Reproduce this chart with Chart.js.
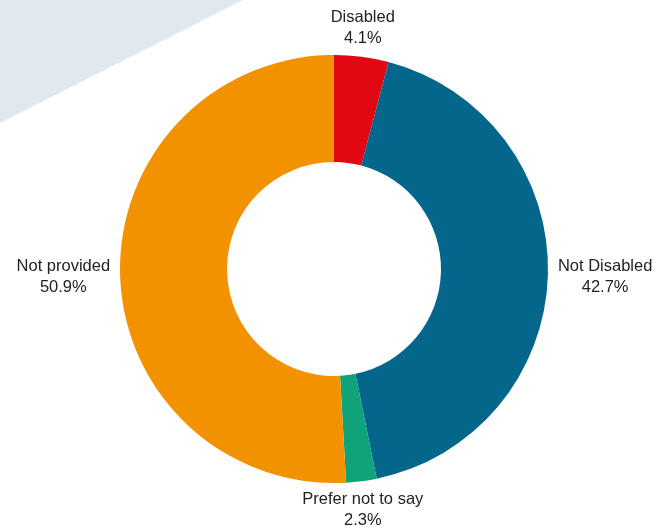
<!DOCTYPE html>
<html>
<head>
<meta charset="utf-8">
<script src="https://cdn.jsdelivr.net/npm/chart.js@4"></script>
<style>
  html, body { margin: 0; padding: 0; background: #fff; }
  #wrap { width: 663px; height: 531px; position: relative; }
</style>
</head>
<body>
<div id="wrap"><canvas id="grafico"></canvas></div>
<script>
const categorias = ["Disabled", "Not Disabled", "Prefer not to say", "Not provided"];
const porcentajes = [4.1, 42.7, 2.3, 50.9];
const colores = ["#e30613", "#04668b", "#10a37b", "#f39200"];

// triangulo gris del fondo
const fondoPlugin = {
  id: "fondo",
  beforeDraw(chart) {
    const ctx = chart.ctx;
    ctx.save();
    ctx.fillStyle = "#dfe9ee";
    ctx.beginPath();
    ctx.moveTo(0, 0);
    ctx.lineTo(243, 0);
    ctx.lineTo(0, 123);
    ctx.closePath();
    ctx.fill();
    ctx.restore();
  }
};

// etiquetas fuera del anillo
const etiquetasPlugin = {
  id: "etiquetas",
  afterDatasetsDraw(chart) {
    const ctx = chart.ctx;
    const meta = chart.getDatasetMeta(0);
    ctx.save();
    ctx.font = "16.5px 'Liberation Sans', Arial, sans-serif";
    ctx.fillStyle = "#222";
    ctx.textAlign = "center";
    ctx.textBaseline = "middle";
    const lineH = 21;
    meta.data.forEach((arc, i) => {
      const p = arc.getProps(["x", "y", "startAngle", "endAngle", "outerRadius"], true);
      const mid = (p.startAngle + p.endAngle) / 2;
      const cx = Math.cos(mid), cy = Math.sin(mid);
      const ax = p.x + cx * (p.outerRadius + 10);
      const ay = p.y + cy * (p.outerRadius + 8);
      const lineas = [categorias[i], porcentajes[i].toFixed(1) + "%"];
      const w = Math.max(...lineas.map(t => ctx.measureText(t).width));
      const h = lineH * lineas.length;
      let bx = ax, by = ay;
      if (cx > 0.3) bx = ax + w / 2;
      else if (cx < -0.3) bx = ax - w / 2;
      if (cy > 0.3) by = ay + h / 2;
      else if (cy < -0.3) by = ay - h / 2;
      else by = ay + 2;
      lineas.forEach((t, j) => {
        ctx.fillText(t, bx, by - h / 2 + lineH / 2 + j * lineH);
      });
    });
    ctx.restore();
  }
};

new Chart(document.getElementById("grafico").getContext("2d"), {
  type: "doughnut",
  data: {
    labels: categorias,
    datasets: [{
      data: porcentajes,
      backgroundColor: colores,
      borderWidth: 0
    }]
  },
  options: {
    responsive: true,
    maintainAspectRatio: false,
    animation: false,
    cutout: "50%",
    layout: { padding: { top: 55, bottom: 48, left: 5, right: 0 } },
    plugins: {
      legend: { display: false },
      tooltip: { enabled: false }
    }
  },
  plugins: [fondoPlugin, etiquetasPlugin]
});
</script>
</body>
</html>
